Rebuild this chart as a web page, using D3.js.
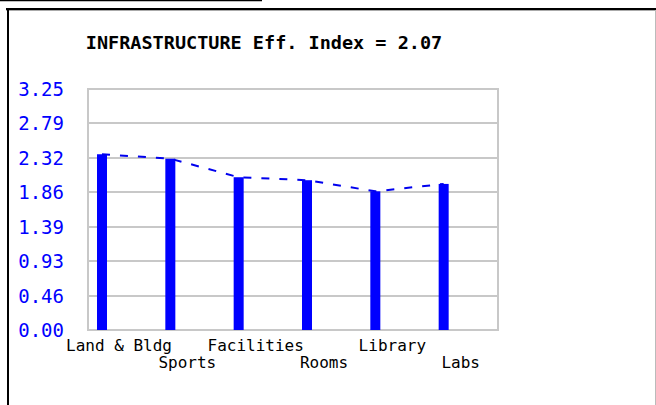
<!DOCTYPE html>
<html>
<head>
<meta charset="utf-8">
<script src="https://cdn.jsdelivr.net/npm/d3@7"></script>
<style>
  body { margin: 0; background: #fff; }
  svg { display: block; }
</style>
</head>
<body>
<div id="chart"></div>
<script>
// infrastructure efficiency index, one bar per area
var categories = ["Land & Bldg", "Sports", "Facilities", "Rooms", "Library", "Labs"];
var values = [2.37, 2.31, 2.06, 2.02, 1.87, 1.97];
var yTicks = ["0.00", "0.46", "0.93", "1.39", "1.86", "2.32", "2.79", "3.25"];
var title = "INFRASTRUCTURE Eff. Index = 2.07";

var W = 656, H = 405;
var plot = {left: 88, right: 498, top: 89, bottom: 330};

var svg = d3.select("#chart").append("svg")
    .attr("width", W)
    .attr("height", H);

// frame (screenshot edges)
svg.append("line")
    .attr("x1", 0).attr("x2", 262).attr("y1", 0.5).attr("y2", 0.5)
    .attr("stroke", "#000").attr("stroke-width", 1.5);
svg.append("line")
    .attr("x1", 6).attr("x2", W).attr("y1", 9).attr("y2", 9)
    .attr("stroke", "#000").attr("stroke-width", 2);
svg.append("line")
    .attr("x1", 6).attr("x2", W).attr("y1", 10.5).attr("y2", 10.5)
    .attr("stroke", "#aaa").attr("stroke-width", 1);
svg.append("line")
    .attr("x1", 8).attr("x2", 8).attr("y1", 8).attr("y2", H)
    .attr("stroke", "#000").attr("stroke-width", 2);
svg.append("line")
    .attr("x1", 655.5).attr("x2", 655.5).attr("y1", 10).attr("y2", H)
    .attr("stroke", "#bbb").attr("stroke-width", 1);

var x = d3.scaleBand()
    .domain(categories)
    .range([plot.left, plot.right]);

var y = d3.scaleLinear()
    .domain([0, 3.25])
    .range([plot.bottom, plot.top]);

// grid lines
svg.selectAll(".grid")
    .data(yTicks)
    .enter()
    .append("line")
    .attr("class", "grid")
    .attr("x1", plot.left)
    .attr("x2", plot.right)
    .attr("y1", function(d) { return y(+d); })
    .attr("y2", function(d) { return y(+d); })
    .attr("stroke", "#c8c8c8")
    .attr("stroke-width", 2);

svg.append("rect")
    .attr("x", plot.left)
    .attr("y", plot.top)
    .attr("width", plot.right - plot.left)
    .attr("height", plot.bottom - plot.top)
    .attr("fill", "none")
    .attr("stroke", "#c8c8c8")
    .attr("stroke-width", 2);

// y tick labels
svg.selectAll(".ylab")
    .data(yTicks)
    .enter()
    .append("text")
    .attr("class", "ylab")
    .attr("x", 64)
    .attr("y", function(d) { return y(+d); })
    .attr("dy", "0.36em")
    .attr("text-anchor", "end")
    .attr("fill", "#0000ff")
    .style("font-family", "'DejaVu Sans Mono', monospace")
    .style("font-size", "19px")
    .text(function(d) { return d; });

// bars
var barW = 10;
svg.selectAll(".bar")
    .data(values)
    .enter()
    .append("rect")
    .attr("class", "bar")
    .attr("x", function(d, i) { return x(categories[i]) + 9; })
    .attr("y", function(d) { return y(d); })
    .attr("width", barW)
    .attr("height", function(d) { return y(0) - y(d); })
    .attr("fill", "#0000ff");

// dashed line joining the bar tops
var line = d3.line()
    .x(function(d, i) { return x(categories[i]) + 9 + barW / 2; })
    .y(function(d) { return y(d); });

svg.append("path")
    .datum(values)
    .attr("d", line)
    .attr("fill", "none")
    .attr("stroke", "#0000ee")
    .attr("stroke-width", 2)
    .attr("stroke-dasharray", "8,10");

// category labels, staggered on two rows
svg.selectAll(".xlab")
    .data(categories)
    .enter()
    .append("text")
    .attr("class", "xlab")
    .attr("x", function(d) { return x(d) + 9 + barW / 2 + 17; })
    .attr("y", function(d, i) { return i % 2 === 0 ? 351 : 368; })
    .attr("text-anchor", "middle")
    .attr("fill", "#000")
    .style("font-family", "'DejaVu Sans Mono', monospace")
    .style("font-size", "16px")
    .text(function(d) { return d; });

// title
svg.append("text")
    .attr("x", 264)
    .attr("y", 49)
    .attr("text-anchor", "middle")
    .attr("fill", "#000")
    .style("font-family", "'DejaVu Sans Mono', monospace")
    .style("font-weight", "bold")
    .style("font-size", "18.5px")
    .text(title);
</script>
</body>
</html>
